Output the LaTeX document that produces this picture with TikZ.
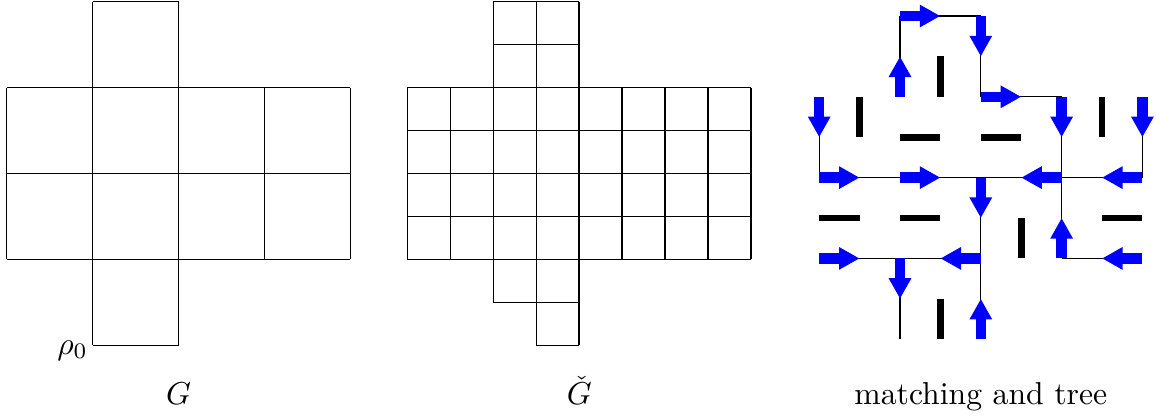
\documentclass[tikz,border=0pt]{standalone}
\usetikzlibrary{arrows.meta}
\tikzset{
  gridline/.style={line width=0.4pt, black},
  treeline/.style={line width=0.4pt, black},
  match/.style={line width=3.3pt, blue, -{Triangle[length=6.5pt,width=6.7pt]}},
  dimer/.style={line width=2.1pt, black},
  lbl/.style={anchor=base, inner sep=0pt},
}
\begin{document}
\begin{tikzpicture}[x=0.3155pt,y=-0.3155pt]
\useasboundingbox (0,0) rectangle (1156,415);

% ---------- G ----------
\begin{scope}[shift={(6.7,1.7)}, scale=85.9]
  \foreach \r in {1,2,3} \draw[gridline] (0,\r) -- (4,\r);
  \draw[gridline] (1,0) -- (2,0);
  \draw[gridline] (1,4) -- (2,4);
  \foreach \c in {0,3,4} \draw[gridline] (\c,1) -- (\c,3);
  \foreach \c in {1,2} \draw[gridline] (\c,0) -- (\c,4);
  \coordinate (rho) at (1,4);
\end{scope}
\node[anchor=base east, inner sep=0pt] (rho0) at ([shift={(-4,8.7)}]rho) {$\rho_0$};

% ---------- G check ----------
\begin{scope}[shift={(407.3,1.7)}, scale=42.95]
  \foreach \r in {2,...,6} \draw[gridline] (0,\r) -- (8,\r);
  \foreach \r in {0,1,7} \draw[gridline] (2,\r) -- (4,\r);
  \draw[gridline] (3,8) -- (4,8);
  \foreach \c in {0,1,5,6,7,8} \draw[gridline] (\c,2) -- (\c,6);
  \draw[gridline] (2,0) -- (2,7);
  \foreach \c in {3,4} \draw[gridline] (\c,0) -- (\c,8);
\end{scope}

% ---------- matching and tree ----------
\begin{scope}[shift={(819.2,16)}, scale=40.4]
  \foreach \i in {0,...,8} \foreach \j in {0,...,8} \coordinate (m-\i-\j) at (\i,\j);
\end{scope}

% tree edges
\foreach \a/\b in {2-2/2-0, 2-0/4-0, 4-0/4-2, 4-2/6-2, 6-2/6-4, 0-2/0-4, 8-2/8-4,
  0-4/2-4, 2-4/4-4, 6-4/4-4, 8-4/6-4, 4-4/4-6, 4-8/4-6, 0-6/2-6, 4-6/2-6, 2-6/2-8,
  6-6/6-4, 8-6/6-6}
  \draw[treeline] (m-\a) -- (m-\b);

% matching arrows (primal)
\foreach \a/\b in {2-2/2-1, 2-0/3-0, 4-0/4-1, 4-2/5-2, 6-2/6-3, 0-2/0-3, 8-2/8-3,
  0-4/1-4, 2-4/3-4, 6-4/5-4, 8-4/7-4, 4-4/4-5, 4-8/4-7, 0-6/1-6, 4-6/3-6, 2-6/2-7,
  6-6/6-5, 8-6/7-6}
  \draw[match] (m-\a) -- (m-\b);

% dual dimers
\foreach \a/\b in {3-1/3-2, 1-2/1-3, 2-3/3-3, 4-3/5-3, 7-2/7-3, 0-5/1-5, 2-5/3-5,
  7-5/8-5, 5-5/5-6, 3-7/3-8}
  \draw[dimer] (m-\a) -- (m-\b);

% ---------- labels ----------
\node[lbl] (lG) at (178.5,404.5) {$G$};
\node[lbl] (lGc) at (579.2,404.5) {$\check G$};
\node[lbl] (lM) at (980.8,404.5) {matching and tree};
\end{tikzpicture}
\end{document}
